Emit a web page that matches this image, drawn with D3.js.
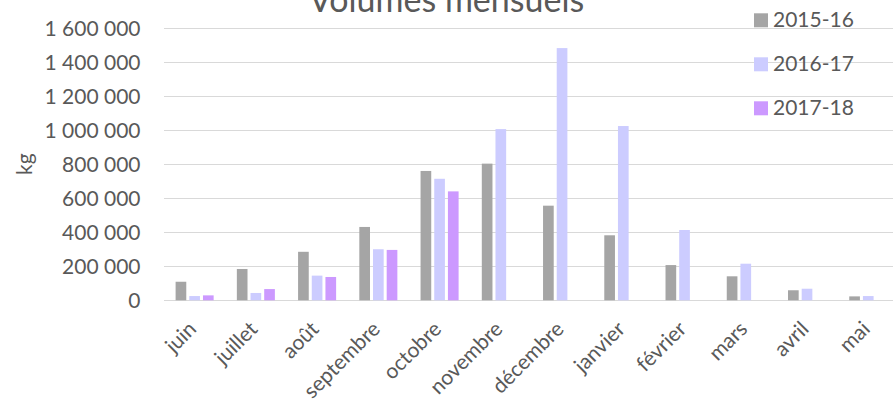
<!DOCTYPE html>
<html><head><meta charset="utf-8">
<script src="https://cdn.jsdelivr.net/npm/d3@7"></script>
<style>body{margin:0;background:#fff;} svg{display:block;} text{font-family:Lato, "Open Sans", sans-serif; fill:#595959;}</style>
</head><body>
<svg id="chart" width="893" height="405"></svg>
<script>
const months = ["juin","juillet","août","septembre","octobre","novembre","décembre","janvier","février","mars","avril","mai"];
const seriesNames = ["2015-16","2016-17","2017-18"];
const s2015 = [109000,184000,285000,431000,760000,803000,556000,382000,207000,141000,59000,23000];
const s2016 = [25000,43000,145000,300000,714000,1006000,1482000,1024000,413000,215000,68000,25000];
const s2017 = [29000,66000,137000,296000,640000,null,null,null,null,null,null,null];
const yTicks = [0,200000,400000,600000,800000,1000000,1200000,1400000,1600000];
const colors = ["#A5A5A5","#CCCCFF","#CC99FF"];
const title = "Volumes mensuels";
const yLabel = "kg";

const seriesValues = [s2015, s2016, s2017];
const W = 893, H = 405;
const svg = d3.select("#chart");
const plotLeft = 164, plotTop = 28, plotBottom = 300.3;
const step = 61.24;
const x0 = d3.scaleBand().domain(months).range([plotLeft, plotLeft + step*months.length]).padding(0);
const x1 = d3.scaleBand().domain(seriesNames).range([11.6, step-11.6]).paddingInner(0.22).paddingOuter(0);
const y = d3.scaleLinear().domain([0,1600000]).range([plotBottom, plotTop]);
const fmt = d3.formatLocale({decimal:",", thousands:"\u00a0", grouping:[3], currency:["","€"]}).format(",d");

// gridlines
svg.append("g").selectAll("line").data(yTicks).join("line")
  .attr("x1", plotLeft).attr("x2", x0.range()[1])
  .attr("y1", d => Math.round(y(d))+0.5).attr("y2", d => Math.round(y(d))+0.5)
  .attr("stroke", "#D9D9D9").attr("stroke-width", 1.2);

// y tick labels
svg.append("g").selectAll("text").data(yTicks).join("text")
  .attr("x", 140.5).attr("y", d => y(d)).attr("dy","0.36em")
  .attr("text-anchor","end").attr("font-size", 21)
  .text(d => fmt(d));

// bars
const g = svg.append("g");
months.forEach((m, i) => {
  seriesNames.forEach((s, j) => {
    const v = seriesValues[j][i];
    if (v == null) return;
    g.append("rect")
      .attr("x", x0(m) + x1(s)).attr("width", x1.bandwidth())
      .attr("y", y(v)).attr("height", y(0) - y(v))
      .attr("fill", colors[j]);
  });
});

// x labels
svg.append("g").selectAll("text").data(months).join("text")
  .attr("transform", d => `translate(${x0(d) + step/2 + 3},${plotBottom + 30}) rotate(-45)`)
  .attr("text-anchor","end").attr("font-size", 21)
  .text(d => d);

// y label
svg.append("text")
  .attr("transform", `translate(32,${(plotTop+plotBottom)/2}) rotate(-90)`)
  .attr("text-anchor","middle").attr("font-size", 21)
  .text(yLabel);

// title
svg.append("text").attr("x", W/2).attr("y", 12).attr("text-anchor","middle")
  .attr("font-size", 34).text(title);

// legend
const lg = svg.append("g");
seriesNames.forEach((s, j) => {
  const yy = 13.3 + j*44;
  lg.append("rect").attr("x", 754).attr("y", yy).attr("width", 14).attr("height", 14).attr("fill", colors[j]);
  lg.append("text").attr("x", 773).attr("y", yy + 14).attr("font-size", 21).text(s);
});
</script>
</body></html>
